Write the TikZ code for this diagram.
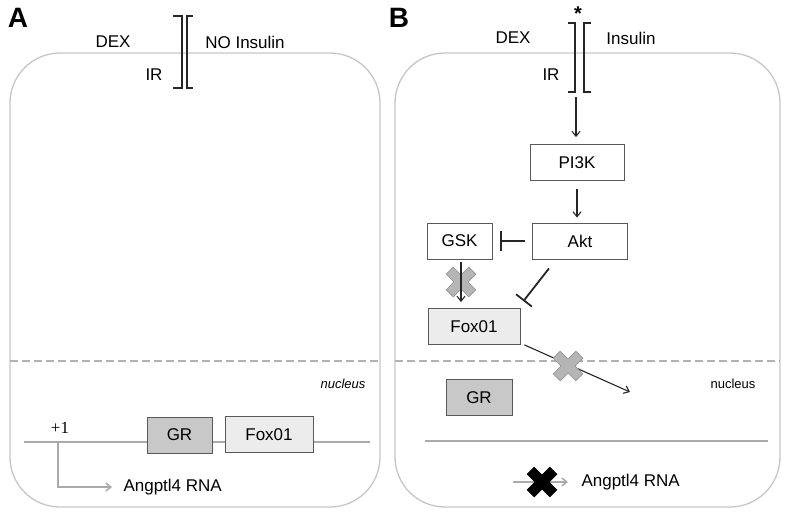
\documentclass[tikz,border=0pt]{standalone}
\usepackage{fontspec}
\setmainfont{Liberation Sans}
\newfontfamily\numfont{Liberation Serif}
\usetikzlibrary{arrows.meta}

\tikzset{
  xmark/.pic={
    \path[pic actions] (5,16) -- (5,5) -- (16,5) -- (16,-5) -- (5,-5) -- (5,-16)
      -- (-5,-16) -- (-5,-5) -- (-16,-5) -- (-16,5) -- (-5,5) -- (-5,16) -- cycle;
  }
}

\begin{document}
\begin{tikzpicture}[x=1pt,y=-1pt,
  cell/.style={draw=gray!45,line width=1.3pt,rounded corners=50pt},
  membrane/.style={draw=black!85,line width=2pt},
  lbl/.style={font=\fontsize{17}{17}\selectfont},
  protein/.style={draw=gray!70!black,line width=0.8pt,fill=white,minimum height=36pt,
    inner sep=0pt,font=\fontsize{17}{17}\selectfont},
  foxo/.style={protein,fill=gray!15},
  grbox/.style={protein,fill=gray!43},
  dna/.style={draw=gray!67,line width=1.5pt},
  arr/.style={draw=black!85,line width=1.1pt,-{Straight Barb[length=5pt,width=8pt]}},
  inhib/.style={draw=black!85,line width=1.8pt,-{Bar[width=20pt]}},
  greyx/.style={rotate=45,fill=gray!58,draw=gray!85,line width=0.6pt},
  blackx/.style={rotate=45,fill=black,draw=black,line width=0.6pt}
]
\useasboundingbox (0,0) rectangle (786,515);

% cells and nuclear envelope
\draw[cell] (10,53) rectangle (380,507);
\draw[cell] (395,53) rectangle (780,507);
\draw[gray!60,line width=2pt,dash pattern=on 8pt off 4pt] (10,361) -- (380,361);
\draw[gray!60,line width=2pt,dash pattern=on 8pt off 4pt] (395,361) -- (780,361);

\node[font=\bfseries\fontsize{28}{28}\selectfont] (panA) at (18,18) {A};
\node[font=\bfseries\fontsize{28}{28}\selectfont] (panB) at (399,18) {B};

% receptor A
\draw[membrane] (173,16) -- (182,16) -- (182,88) -- (173,88);
\draw[membrane] (193,16) -- (187,16) -- (187,88) -- (193,88);
\node[lbl] (dexA) at (113,42) {DEX};
\node[lbl] (insA) at (245,42) {NO Insulin};
\node[lbl] (irA) at (154,75) {IR};

% receptor B
\draw[membrane] (568,23) -- (575,23) -- (575,92) -- (568,92);
\draw[membrane] (591,23) -- (584,23) -- (584,92) -- (591,92);
\node[lbl] (dexB) at (513,38) {DEX};
\node[lbl] (insB) at (631,38) {Insulin};
\node[lbl] (irB) at (551,75) {IR};
\node[font=\bfseries\fontsize{20}{20}\selectfont] (star) at (578,14) {*};
\coordinate (irbase) at (576,97);

% nucleus A
\node[font=\itshape\fontsize{13}{13}\selectfont] (nucA) at (343,384) {nucleus};
\draw[dna] (24,442) -- (370,442);
\coordinate (tss) at (58,442);
\node[grbox,minimum width=65pt] (grA) at (179.5,435) {GR};
\node[foxo,minimum width=88pt] (foxA) at (269,434.5) {Fox01};
\node[font=\numfont\fontsize{17}{17}\selectfont] (plus) at (60,428) {+1};
\node[lbl,anchor=west] (rnaA) at (120,487) {Angptl4 RNA};
\draw[dna,-{Straight Barb[length=5pt,width=8pt]},shorten >=8pt] (tss) |- (rnaA.west);

% signalling B
\node[protein,minimum width=94pt] (pik) at (577,162.5) {PI3K};
\node[protein,minimum width=95pt] (akt) at (580,241) {Akt};
\node[protein,minimum width=65pt] (gsk) at (459.5,241) {GSK};
\node[foxo,minimum width=92pt] (foxB) at (474,326.5) {Fox01};
\node[grbox,minimum width=66pt] (grB) at (479,397.5) {GR};
\node[font=\fontsize{13}{13}\selectfont] (nucB) at (733,384) {nucleus};
\coordinate (nucin) at (630,392);

\draw[arr,shorten >=7pt] (irbase) -- (irbase |- pik.north);
\draw[arr,shorten <=8pt,shorten >=5pt] (pik.south) -- (pik.south |- akt.north);
\draw[inhib,shorten <=7pt,shorten >=8pt] (akt.west) -- (gsk.east);
\pic[greyx] at (461,282) {xmark};
\draw[arr,shorten <=3pt,shorten >=6pt] ([xshift=1.5pt]gsk.south) -- ([xshift=1.5pt]gsk.south |- foxB.north);
\draw[inhib] ([shift={(-31,9)}]akt.south) -- ([shift={(3,-7)}]foxB.north east);
\draw[arr] ([shift={(4,0)}]foxB.south east) -- (nucin);
\pic[greyx] at (568,366) {xmark};

% DNA B
\draw[dna] (425,441) -- (768,441);
\coordinate (rnastart) at (513,482);
\node[lbl,anchor=west] (rnaB) at (578,482) {Angptl4 RNA};
\draw[dna,-{Straight Barb[length=5pt,width=8pt]},shorten >=10pt] (rnastart) -- (rnaB.west);
\pic[blackx] at (542,482) {xmark};

\end{tikzpicture}
\end{document}
